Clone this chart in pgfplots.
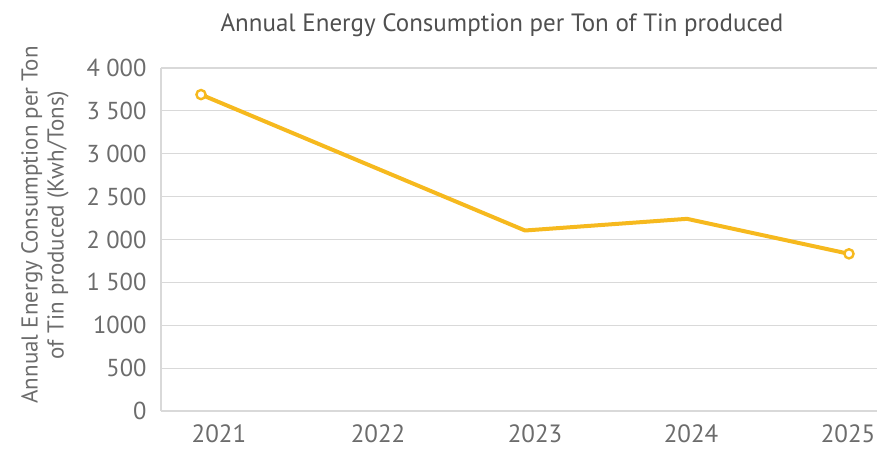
\documentclass[border=0pt]{standalone}
\usepackage{pgfplots}
\pgfplotsset{compat=1.18}
\usepackage{fontspec}
\setmainfont{PT Sans}
\definecolor{txt}{RGB}{108,108,108}
\definecolor{ttl}{RGB}{80,80,80}
\definecolor{grd}{RGB}{217,217,217}
\definecolor{gold}{RGB}{246,185,30}
\begin{document}
\begin{tikzpicture}[x=1pt,y=1pt]
\path[use as bounding box] (0,0) rectangle (877,448);
\node[text=ttl, font=\fontsize{25}{28}\selectfont] at (502,423) {Annual Energy Consumption per Ton of Tin produced};
\node[text=txt, font=\fontsize{23}{26}\selectfont, rotate=90, align=center] at (45,223) {Annual Energy Consumption per Ton\\of Tin produced (Kwh/Tons)};
\begin{axis}[
  at={(161pt,37pt)}, anchor=south west,
  scale only axis, width=716pt, height=343pt,
  xmin=2020.753, xmax=2025.173, ymin=0, ymax=4000,
  axis lines=left, axis line style={-, grd, line width=1.5pt},
  xtick={2021.111,2022.093,2023.062,2024.025,2024.994},
  xticklabels={2021,2022,2023,2024,2025},
  ytick={0,500,1000,1500,2000,2500,3000,3500,4000},
  yticklabels={0,500,1000,1 500,2 000,2 500,3 000,3 500,4 000},
  ymajorgrids, grid style={grd, line width=1.2pt},
  major tick length=0,
  tick label style={text=txt},
  yticklabel style={font=\fontsize{24.5}{27}\selectfont, anchor=east, xshift=-11pt},
  xticklabel style={font=\fontsize{25}{28}\selectfont, anchor=north, yshift=-10pt},
  clip=false,
]
\addplot[gold, line width=4pt, line join=round] coordinates {(2021,3690)(2022,2897)(2023,2105)(2024,2241)(2025,1833)};
\addplot[gold, line width=2.4pt, only marks, mark=*, mark size=4.6pt, mark options={fill=white, draw=gold}] coordinates {(2021,3690)(2025,1833)};
\end{axis}
\end{tikzpicture}
\end{document}
